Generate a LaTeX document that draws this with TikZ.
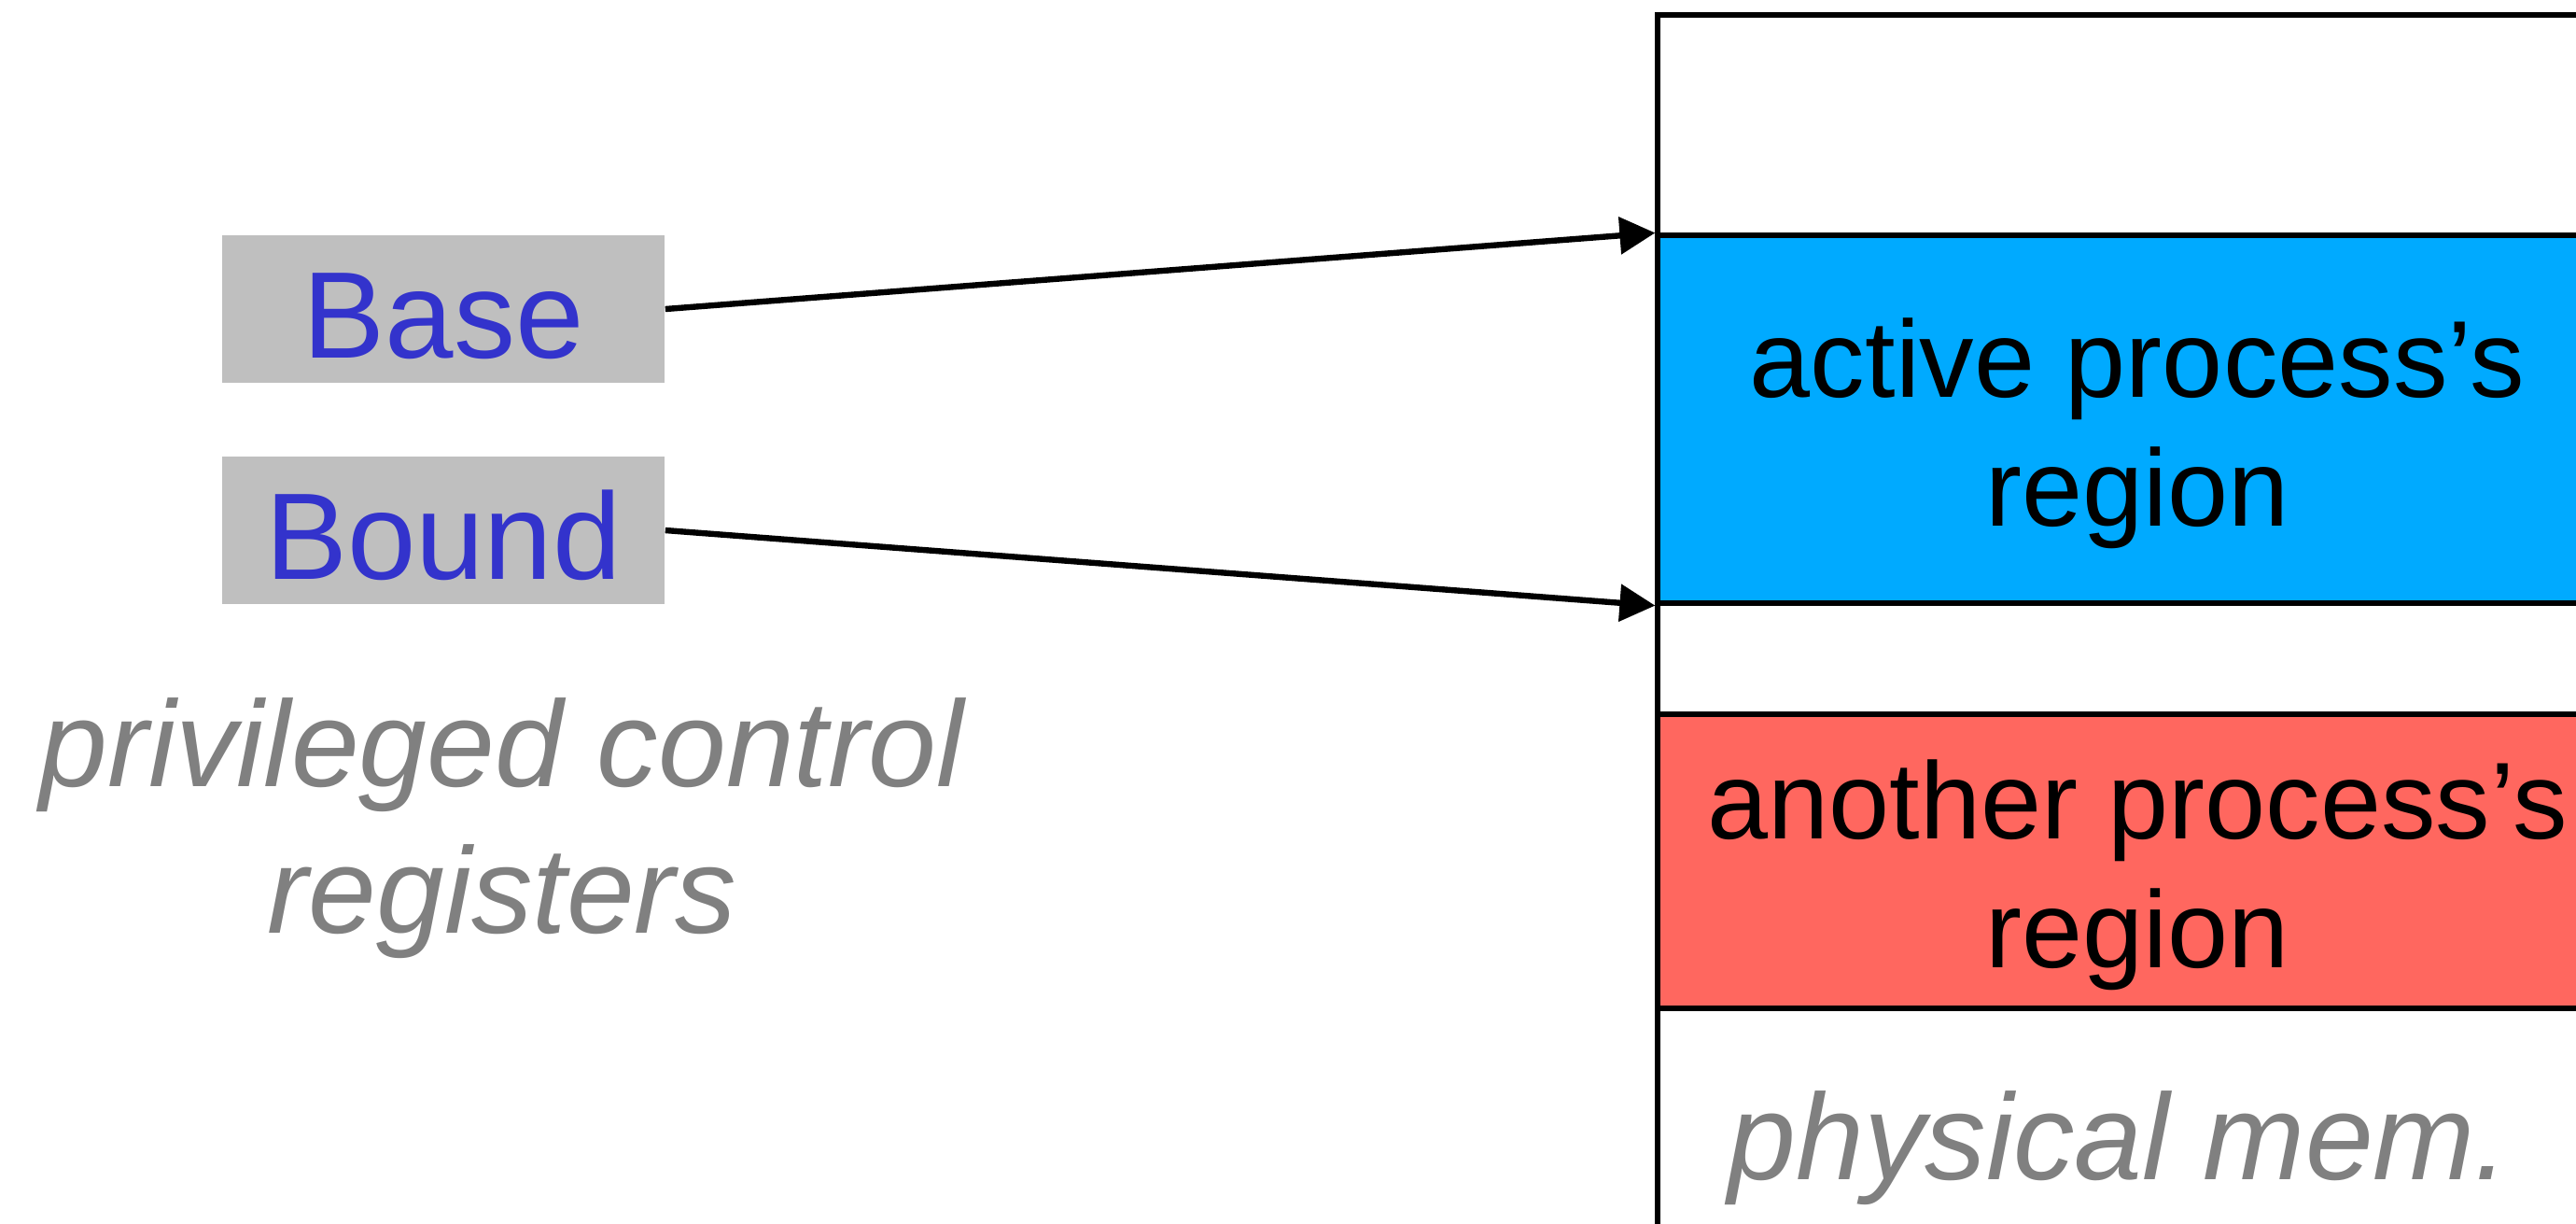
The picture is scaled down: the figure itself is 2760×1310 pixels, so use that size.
\documentclass[tikz,border=0pt]{standalone}
\usepackage{fontspec}
\setmainfont{Liberation Sans}
\usetikzlibrary{arrows.meta,fit}
\definecolor{regtext}{RGB}{51,51,204}
\definecolor{reggray}{RGB}{191,191,191}
\definecolor{activefill}{RGB}{0,170,255}
\definecolor{otherfill}{RGB}{255,103,95}
\definecolor{notegray}{RGB}{128,128,128}
\begin{document}
\begin{tikzpicture}[x=0.25pt,y=-0.25pt,
  regbox/.style={fill=reggray, minimum width=118.5pt, minimum height=39.5pt,
    inner sep=0pt, text=regtext, font=\fontsize{33pt}{39pt}\selectfont,
    text height=26pt, text depth=0pt},
  memrect/.style={draw=black, line width=1.3pt, inner sep=0pt},
  regionlabel/.style={align=center, inner sep=0pt,
    font=\fontsize{29.25pt}{34.5pt}\selectfont},
  note/.style={align=center, inner sep=0pt, text=notegray,
    font=\fontsize{32.75pt}{39.25pt}\selectfont\itshape},
  conn/.style={draw=black, line width=1.6pt,
    -{Triangle[length=9.5pt,width=9.75pt]}}]
\useasboundingbox (0,0) rectangle (2760,1310);
\clip (0,0) rectangle (2760,1310);

% physical memory column (runs off the right and bottom edges)
\node[memrect, fill=white, fit={(1776,16)(2840,1340)}] (mem) {};
\node[memrect, fill=activefill, fit={(1776,252)(2804,646)}] (active) {};
\node[memrect, fill=otherfill, fit={(1776,765)(2804,1080)}] (other) {};

\node[regionlabel] (activetxt) at (2290,464) {active process’s\\region};
\node[regionlabel] (othertxt) at (2290,937) {another process’s\\region};
\node[note, anchor=base] (memtxt) at (2270,1263) {physical mem.};

% control registers
\node[regbox] (base) at (475,331) {Base};
\node[regbox] (bound) at (475,568) {Bound};
\node[note] (regtxt) at (538,887) {privileged control\\registers};

% register contents point at the region limits
\draw[conn] (base.east) -- (active.north west);
\draw[conn] (bound.east) -- (active.south west);
\end{tikzpicture}
\end{document}
